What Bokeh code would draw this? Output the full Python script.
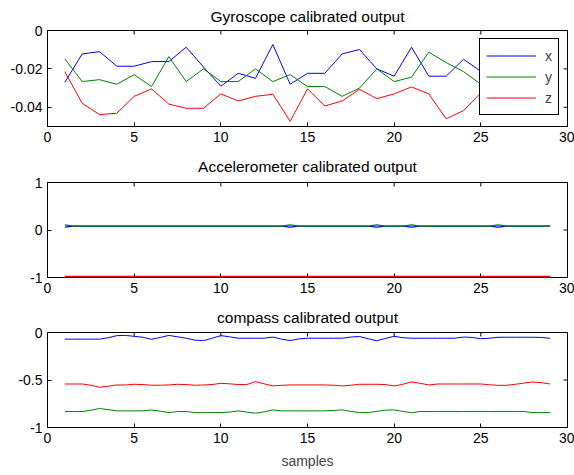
import math
from bokeh.plotting import figure
from bokeh.models import Range1d, FixedTicker, Legend, LegendItem
from bokeh.layouts import column
from bokeh.embed import file_html
from bokeh.resources import INLINE

FONT = "Liberation Sans"

# ---------------- data ----------------
samples = list(range(1, 30))
gyro_x = [-0.027, -0.0122, -0.011, -0.0186, -0.0186, -0.0162, -0.0162, -0.0087, -0.019, -0.029,
          -0.0223, -0.0249, -0.0073, -0.028, -0.0223, -0.0223, -0.0122, -0.0099, -0.020, -0.0238,
          -0.0087, -0.0238, -0.0238, -0.015, -0.0212, -0.020, -0.018, -0.021, -0.019]
gyro_y = [-0.0148, -0.0266, -0.0256, -0.028, -0.023, -0.0292, -0.0136, -0.0266, -0.020, -0.0266,
          -0.0266, -0.020, -0.0266, -0.023, -0.0292, -0.0292, -0.0343, -0.030, -0.020, -0.0266,
          -0.0243, -0.0113, -0.0167, -0.0214, -0.028, -0.025, -0.027, -0.024, -0.026]
gyro_z = [-0.0214, -0.0379, -0.0438, -0.0431, -0.0343, -0.0304, -0.0383, -0.0405, -0.0405, -0.033,
          -0.0367, -0.0343, -0.0332, -0.0473, -0.0304, -0.0393, -0.0367, -0.0306, -0.0355, -0.033,
          -0.0294, -0.033, -0.046, -0.0417, -0.0325, -0.033, -0.035, -0.032, -0.034]

half_samples = [1 + 0.5 * i for i in range(57)]
acc_x = [0.06, 0.08, 0.08, 0.08, 0.08, 0.08, 0.08, 0.08, 0.08, 0.08,
         0.08, 0.08, 0.08, 0.08, 0.08, 0.08, 0.08, 0.08, 0.08, 0.08,
         0.08, 0.08, 0.08, 0.08, 0.08, 0.08, 0.06, 0.08, 0.08, 0.08,
         0.08, 0.08, 0.08, 0.08, 0.08, 0.08, 0.06, 0.08, 0.08, 0.08,
         0.06, 0.08, 0.08, 0.08, 0.08, 0.08, 0.08, 0.08, 0.08, 0.08,
         0.06, 0.08, 0.08, 0.08, 0.08, 0.08, 0.08]
acc_y = [0.11, 0.08, 0.08, 0.08, 0.08, 0.08, 0.08, 0.08, 0.08, 0.08,
         0.08, 0.08, 0.08, 0.08, 0.08, 0.08, 0.08, 0.08, 0.08, 0.08,
         0.08, 0.08, 0.08, 0.08, 0.08, 0.08, 0.11, 0.08, 0.08, 0.08,
         0.08, 0.08, 0.08, 0.08, 0.08, 0.08, 0.11, 0.08, 0.08, 0.08,
         0.11, 0.08, 0.08, 0.08, 0.08, 0.08, 0.08, 0.08, 0.08, 0.08,
         0.11, 0.08, 0.08, 0.08, 0.08, 0.08, 0.08]
acc_z = [-0.985] * 57

comp_x = [-0.070, -0.070, -0.070, -0.070, -0.070, -0.055, -0.033, -0.031, -0.040, -0.050,
          -0.072, -0.052, -0.031, -0.045, -0.060, -0.080, -0.086, -0.060, -0.033, -0.045,
          -0.060, -0.060, -0.060, -0.060, -0.048, -0.070, -0.085, -0.068, -0.060, -0.060,
          -0.060, -0.060, -0.060, -0.048, -0.042, -0.066, -0.087, -0.062, -0.040, -0.055,
          -0.060, -0.060, -0.060, -0.060, -0.060, -0.060, -0.048, -0.052, -0.065, -0.060,
          -0.050, -0.050, -0.050, -0.050, -0.050, -0.052, -0.062]
comp_y = [-0.832, -0.832, -0.832, -0.818, -0.800, -0.812, -0.825, -0.825, -0.825, -0.825,
          -0.815, -0.828, -0.843, -0.832, -0.832, -0.843, -0.843, -0.843, -0.843, -0.838,
          -0.825, -0.838, -0.850, -0.835, -0.815, -0.825, -0.825, -0.825, -0.825, -0.825,
          -0.825, -0.820, -0.815, -0.830, -0.843, -0.843, -0.830, -0.818, -0.815, -0.830,
          -0.845, -0.832, -0.832, -0.832, -0.832, -0.832, -0.832, -0.832, -0.832, -0.832,
          -0.832, -0.832, -0.832, -0.832, -0.843, -0.843, -0.843]
comp_z = [-0.542, -0.542, -0.542, -0.555, -0.577, -0.565, -0.552, -0.552, -0.545, -0.548,
          -0.555, -0.555, -0.552, -0.545, -0.548, -0.555, -0.552, -0.548, -0.535, -0.540,
          -0.548, -0.548, -0.517, -0.540, -0.562, -0.556, -0.552, -0.552, -0.552, -0.552,
          -0.552, -0.555, -0.563, -0.555, -0.545, -0.545, -0.545, -0.548, -0.563, -0.545,
          -0.521, -0.535, -0.552, -0.542, -0.542, -0.542, -0.542, -0.542, -0.542, -0.550,
          -0.556, -0.556, -0.545, -0.532, -0.521, -0.528, -0.542]

x_ticks = [0, 5, 10, 15, 20, 25, 30]
x_tick_labels = ["0", "5", "10", "15", "20", "25", "30"]
gyro_ticks = [-0.04, -0.02, 0]
gyro_tick_labels = ["-0.04", "-0.02", "0"]
acc_ticks = [-1, 0, 1]
acc_tick_labels = ["-1", "0", "1"]
comp_ticks = [-1, -0.5, 0]
comp_tick_labels = ["-1", "-0.5", "0"]

titles = ["Gyroscope calibrated output", "Accelerometer calibrated output", "compass calibrated output"]
legend_labels = ["x", "y", "z"]
colors = ["#0000ff", "#008000", "#ff0000"]

W = 574
X_MAX = 30


def make_fig(title, height, top, bottom, standoff, yr, yticks, ylabels):
    p = figure(width=W, height=height, output_backend="svg", toolbar_location=None,
               x_range=Range1d(0, X_MAX), y_range=Range1d(*yr),
               min_border_left=47, min_border_right=7, min_border_top=top, min_border_bottom=bottom,
               background_fill_color="white", border_fill_color="white")
    p.title.text = title
    p.title.text_font = FONT
    p.title.text_font_size = "15.5px"
    p.title.text_font_style = "normal"
    p.title.align = "center"
    p.title.text_color = "black"
    p.title.standoff = standoff
    p.grid.visible = False
    p.outline_line_color = "black"
    p.outline_line_alpha = 1
    for ax, ticks, labels in ((p.xaxis[0], x_ticks, x_tick_labels), (p.yaxis[0], yticks, ylabels)):
        ax.ticker = FixedTicker(ticks=ticks)
        ax.major_label_overrides = {t: l for t, l in zip(ticks, labels)}
        ax.major_tick_in = 4
        ax.major_tick_out = 0
        ax.minor_tick_line_color = None
        ax.axis_line_color = "black"
        ax.major_tick_line_color = "black"
        ax.major_label_text_font = FONT
        ax.major_label_text_font_size = "14px"
        ax.major_label_text_color = "black"
        ax.major_label_standoff = 5
    # inward tick marks on the top and right edges of the box (half of each dash is clipped)
    p.scatter(x_ticks, [yr[1]] * len(x_ticks), marker="dash", size=8, angle=math.pi / 2,
              line_color="black", line_width=1)
    p.scatter([X_MAX] * len(yticks), yticks, marker="dash", size=8,
              line_color="black", line_width=1)
    return p


p1 = make_fig(titles[0], 148, 30, 22, 11, (-0.05, 0), gyro_ticks, gyro_tick_labels)
r1 = p1.line(samples, gyro_x, line_color=colors[0], line_width=1)
r2 = p1.line(samples, gyro_y, line_color=colors[1], line_width=1)
r3 = p1.line(samples, gyro_z, line_color=colors[2], line_width=1)
legend = Legend(items=[LegendItem(label=legend_labels[0], renderers=[r1]),
                       LegendItem(label=legend_labels[1], renderers=[r2]),
                       LegendItem(label=legend_labels[2], renderers=[r3])],
                location="top_right", margin=8, padding=6, spacing=0,
                glyph_width=50, glyph_height=21, label_height=21, label_width=7, label_standoff=9,
                border_line_color="black", border_line_width=1, border_line_alpha=1,
                label_text_font=FONT, label_text_font_size="14px",
                background_fill_color="white", background_fill_alpha=1)
p1.add_layout(legend)

p2 = make_fig(titles[1], 152, 34, 23, 15, (-1, 1), acc_ticks, acc_tick_labels)
p2.line(half_samples, acc_x, line_color=colors[0], line_width=1.3)
p2.line(half_samples, acc_y, line_color=colors[1], line_width=1.3)
p2.line(half_samples, acc_z, line_color=colors[2], line_width=2)

p3 = make_fig(titles[2], 175, 32, 48, 13, (-1, 0), comp_ticks, comp_tick_labels)
p3.line(half_samples, comp_x, line_color=colors[0], line_width=1)
p3.line(half_samples, comp_z, line_color=colors[2], line_width=1)
p3.line(half_samples, comp_y, line_color=colors[1], line_width=1)
xa = p3.below[0]
xa.axis_label = "samples"
xa.axis_label_text_font = FONT
xa.axis_label_text_font_size = "14px"
xa.axis_label_text_font_style = "normal"
xa.axis_label_standoff = 7

layout = column(p1, p2, p3, spacing=0)
open("out.html", "w").write(file_html(layout, INLINE))
